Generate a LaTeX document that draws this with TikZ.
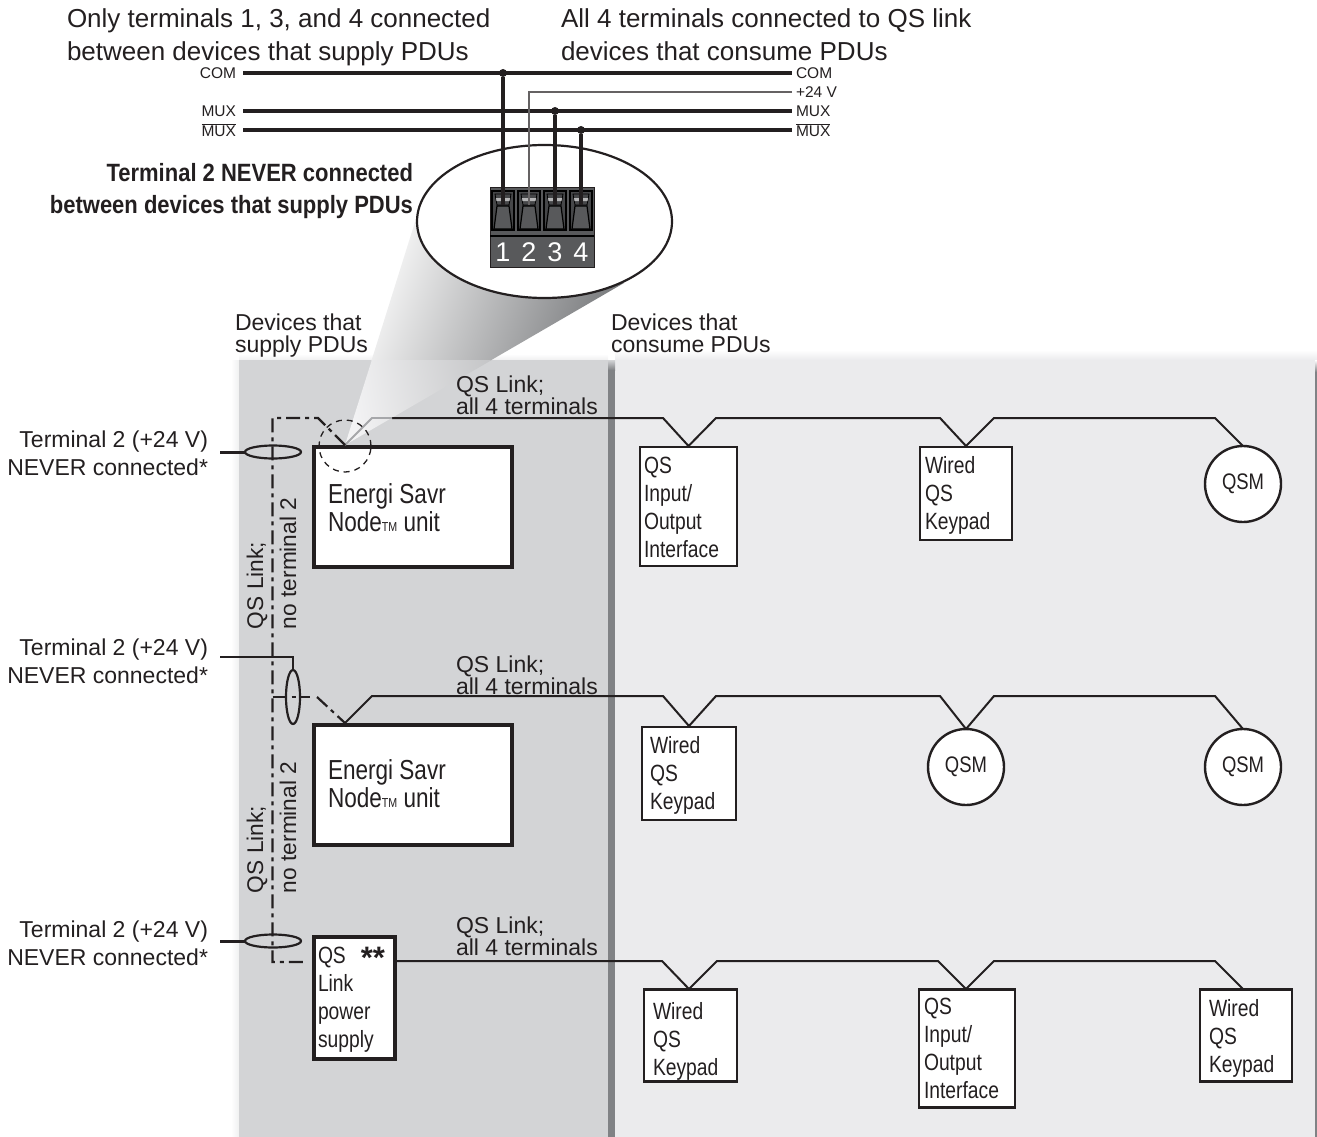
\documentclass[tikz,border=0pt]{standalone}
\usepackage{fontspec}
\usetikzlibrary{shapes.geometric}
\setmainfont{Liberation Sans}
\newfontfamily\condf[FakeStretch=0.82]{Liberation Sans}
\newfontfamily\bcondf[FakeStretch=0.88]{Liberation Sans Bold}
\newcommand{\ovl}[1]{$\overline{\hbox{#1}}$}
\definecolor{ink}{HTML}{231F20}
\definecolor{panelA}{HTML}{D3D4D6}
\definecolor{panelB}{HTML}{EBEBED}
\definecolor{strip}{HTML}{808285}
\definecolor{blockc}{HTML}{58595B}
\tikzset{
  x=1pt,y=-1pt,
  every node/.style={text=ink,inner sep=0pt,outer sep=0pt},
  toptext/.style={anchor=north west,align=left,font=\fontsize{26}{33}\selectfont},
  midtext/.style={anchor=north west,align=left,font=\fontsize{23}{21.5}\selectfont},
  lefttext/.style={anchor=north east,align=right,font=\fontsize{23}{28}\selectfont},
  boldtext/.style={anchor=north east,align=right,font=\bcondf\fontsize{25}{32}\selectfont},
  vtext/.style={anchor=west,rotate=90,font=\fontsize{22.7}{22.7}\selectfont},
  buslabel/.style={anchor=base west,font=\fontsize{15.5}{16}\selectfont},
  bus/.style={draw=ink,line width=3.1pt},
  busthin/.style={draw=ink!70,line width=1.7pt},
  link/.style={draw=ink,line width=2pt},
  dashlink/.style={draw=ink,line width=2.2pt,dash pattern=on 14pt off 5pt on 4pt off 5pt},
  thickbox/.style={draw=ink,line width=4pt,fill=white},
  thinbox/.style={draw=ink,line width=2.4pt,fill=white},
  boxtext/.style={anchor=north west,align=left,font=\condf\fontsize{23.5}{28}\selectfont},
  esntext/.style={anchor=north west,align=left,font=\condf\fontsize{27.5}{28}\selectfont},
  qsm/.style={circle,draw=ink,line width=2.4pt,fill=white,minimum size=76pt,font=\condf\fontsize{22.5}{22.5}\selectfont},
  tie/.style={draw=ink,line width=2.2pt},
  dotc/.style={circle,fill=ink,minimum size=8pt},
  termnum/.style={anchor=base,text=white,font=\fontsize{27}{27}\selectfont}
}
\newcommand{\esnlabel}{Energi Savr\\Node{\fontsize{13}{13}\selectfont TM} unit}
\newcommand{\qsmt}{\raisebox{-3.5pt}{QSM}}
\begin{document}
\begin{tikzpicture}
\useasboundingbox (0,0) rectangle (1317,1137);
% panels
\fill[panelB] (615,360) rectangle (1315,1137);
\shade[top color=white,bottom color=panelB] (615,350) rectangle (1317,360);
\fill[strip] (1315,372) rectangle (1317,1137);
\shade[top color=white,bottom color=strip] (1315,360) rectangle (1317,372);
\shade[left color=white,right color=panelA!35!white] (231,360) rectangle (239,1137);
\shade[top color=white,bottom color=panelA!35!white] (239,354) rectangle (608,360);
\fill[panelA] (239,360) rectangle (608,1137);
\fill[strip] (608,370) rectangle (615,1137);
\shade[top color=panelA,bottom color=strip] (608,360) rectangle (615,370);
% magnifier cone
\begin{scope}
  \clip (0,0) rectangle (1317,360);
  \shade[shading=axis,left color=white,right color=strip!85!black,shading angle=70]
    (415,222) -- (345,445) -- (624,283) -- (545,221) -- cycle;
\end{scope}
\begin{scope}
  \clip (239,360) rectangle (608,1137);
  \shade[shading=axis,left color=panelB!60!white,right color=panelA!92!black,shading angle=100]
    (375,350) -- (345,445) -- (509,350) -- cycle;
\end{scope}
% top text
\node[toptext] (topL) at (67,9) {Only terminals 1, 3, and 4 connected\\between devices that supply PDUs};
\node[toptext] (topR) at (561,9) {All 4 terminals connected to QS link\\devices that consume PDUs};
% bus
\coordinate (comL) at (243,73); \coordinate (comR) at (792,73);
\coordinate (vR) at (792,92);
\coordinate (muxL) at (243,111); \coordinate (muxR) at (792,111);
\coordinate (mubL) at (243,130); \coordinate (mubR) at (792,130);
\path[bus] (comL) -- (comR);
\path[bus] (muxL) -- (muxR);
\path[bus] (mubL) -- (mubR);
\node[buslabel,anchor=base east] (lcom) at (236,79) {COM};
\node[buslabel,anchor=base east] (lmux) at (236,117) {MUX};
\node[buslabel,anchor=base east] (lmub) at (236,136) {\ovl{MUX}};
\node[buslabel] (rcom) at (796,79) {COM};
\node[buslabel] (rv) at (796,98) {+24 V};
\node[buslabel] (rmux) at (796,117) {MUX};
\node[buslabel] (rmub) at (796,136) {\ovl{MUX}};
% magnifier
\node[ellipse,draw=ink,line width=2.2pt,fill=white,minimum width=255pt,minimum height=153pt] (lens) at (544.5,221.5) {};
% terminal block
\fill[blockc,draw=ink,line width=0.8pt] (490,187) rectangle (594,267);
\draw[black,line width=1.8pt] (490,236) -- (594,236);
\foreach \cx/\n in {503/1,529/2,555/3,581/4}{
  \draw[black,line width=1.5pt,fill=blockc!80!black] (\cx-11,191) rectangle (\cx+11,230);
  \draw[black,line width=1.2pt,fill=blockc] (\cx-6,206) -- (\cx+6,206) -- (\cx+9,229) -- (\cx-9,229) -- cycle;
  \draw[black,line width=0.8pt] (\cx-8,194) -- (\cx+8,194) -- (\cx+6,205) -- (\cx-6,205) -- cycle;
  \fill[blockc!45!white] (\cx-7,198) -- (\cx+7,198) -- (\cx+6.5,201) -- (\cx-6.5,201) -- cycle;
  \node[termnum] (t\n) at (\cx,261) {\n};
}
% bus drops
\coordinate (d1) at (503,205); \coordinate (d2) at (529,205); \coordinate (d3) at (555,205); \coordinate (d4) at (581,205);
\node[dotc] (j1) at (503,73) {};
\node[dotc] (j3) at (555,111) {};
\node[dotc] (j4) at (581,130) {};
\path[busthin] (vR) -- (529,92) -- (d2);
\path[bus] (j1) -- (d1);
\path[bus] (j3) -- (d3);
\path[bus] (j4) -- (d4);
\node[boldtext] (boldlab) at (413,163) {Terminal 2 NEVER connected\\between devices that supply PDUs};
\node[midtext] (supl) at (235,314) {Devices that\\supply PDUs};
\node[midtext] (conl) at (611,314) {Devices that\\consume PDUs};
% QS link labels
\node[midtext] (ql1) at (456,376) {QS Link;\\all 4 terminals};
\node[midtext] (ql2) at (456,656) {QS Link;\\all 4 terminals};
\node[midtext] (ql3) at (456,917) {QS Link;\\all 4 terminals};
% left labels
\node[lefttext] (tl1) at (208,431) {Terminal 2 (+24 V)\\NEVER connected*};
\node[lefttext] (tl2) at (208,639) {Terminal 2 (+24 V)\\NEVER connected*};
\node[lefttext] (tl3) at (208,921) {Terminal 2 (+24 V)\\NEVER connected*};
% vertical labels
\node[vtext] (v1a) at (257,629) {QS Link;};
\node[vtext] (v1b) at (288,629) {no terminal 2};
\node[vtext] (v2a) at (257,893) {QS Link;};
\node[vtext] (v2b) at (288,893) {no terminal 2};
% boxes
\node[thickbox,minimum width=197.5pt,minimum height=120pt] (esn1) at (412.75,507) {};
\node[thickbox,minimum width=197.5pt,minimum height=120pt] (esn2) at (412.75,785) {};
\node[thickbox,minimum width=81pt,minimum height=122pt] (pwr) at (354.5,998) {};
\node[esntext] at (328,484) {\esnlabel};
\node[esntext] at (328,760) {\esnlabel};
\node[boxtext] at (318,947) {QS\\Link\\power\\supply};
\node[anchor=center,font=\bfseries\fontsize{31}{31}\selectfont] (stars) at (373,958) {**};
\coordinate (a1) at (345,445); \coordinate (a2) at (345,723);
\node[thinbox,minimum width=97pt,minimum height=119pt] (b11) at (688.5,506.5) {};
\node[thinbox,minimum width=92pt,minimum height=93pt] (b12) at (966,493.5) {};
\node[qsm] (b13) at (1243,484) {\qsmt};
\node[thinbox,minimum width=94pt,minimum height=93pt] (b21) at (689,773.5) {};
\node[qsm] (b22) at (966,767) {\qsmt};
\node[qsm] (b23) at (1243,767) {\qsmt};
\node[thinbox,minimum width=93pt,minimum height=92pt] (b31) at (690.5,1035.5) {};
\node[thinbox,minimum width=96pt,minimum height=118pt] (b32) at (967,1048.5) {};
\node[thinbox,minimum width=92pt,minimum height=92pt] (b33) at (1246,1035.5) {};
\node[boxtext] at (644,457) {QS\\Input/\\Output\\Interface};
\node[boxtext] at (925,456) {Wired\\QS\\Keypad};
\node[boxtext] at (650,736) {Wired\\QS\\Keypad};
\node[boxtext] at (653,1002) {Wired\\QS\\Keypad};
\node[boxtext] at (924,998) {QS\\Input/\\Output\\Interface};
\node[boxtext] at (1209,999) {Wired\\QS\\Keypad};
% links
\draw[link] (392,418) -- (663,418) -- (688.5,446) -- (716,418) -- (940,418) -- (966,446) -- (994,418) -- (1215,418) -- (b13.north);
\draw[draw=strip!70,line width=1.8pt] (a1) -- (372,418) -- (392,418);
\draw[link] (a2) -- (372,696) -- (663,696) -- (689,726) -- (716,696) -- (940,696) -- (b22.north) -- (994,696) -- (1215,696) -- (b23.north);
\draw[link] (397,961) -- (662,961) -- (689,989) -- (717,961) -- (938,961) -- (966,989) -- (994,961) -- (1215,961) -- (1243,989);
% QS link no terminal 2
\draw[dashlink] (a1) -- (318,418) -- (272.5,418) -- (272.5,962) -- (305,962);
\draw[dashlink] (272.5,697) -- (310,697);
\draw[dashlink] (317,697) -- (a2);
% dashed circle
\node[circle,draw=ink,line width=1.3pt,dashed,dash pattern=on 6pt off 5pt,minimum size=52pt] (zoomc) at (345,446) {};
% ties
\node[ellipse,tie,minimum width=56pt,minimum height=13pt] (e1) at (273,452) {};
\node[ellipse,tie,minimum width=14pt,minimum height=54pt] (e2) at (293,697) {};
\node[ellipse,tie,minimum width=56pt,minimum height=13pt] (e3) at (273,941) {};
\coordinate (w1) at (220,452); \coordinate (w2) at (220,657); \coordinate (w3) at (220,941);
\draw[draw=ink,line width=3pt] (w1) -- (e1.west);
\draw[draw=ink,line width=2pt] (w2) -- (293,657) -- (e2.north);
\draw[draw=ink,line width=3pt] (w3) -- (e3.west);
\end{tikzpicture}
\end{document}
